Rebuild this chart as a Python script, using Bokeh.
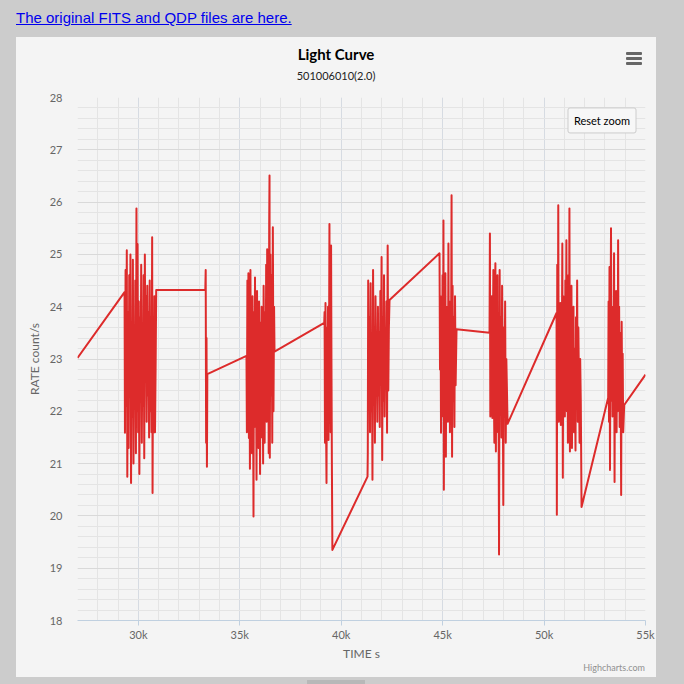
from bokeh.plotting import figure
from bokeh.models import Range1d, Label, Div, FixedTicker, GlobalInlineStyleSheet
from bokeh.layouts import column
from bokeh.embed import file_html
from bokeh.resources import INLINE

# ---------------- data (TIME s, RATE count/s) ----------------
t_start = [27000]
r_start = [23.02]

t_orbit1 = [29320, 29340, 29370, 29400, 29430, 29455, 29490, 29520, 29550, 29580,
            29610, 29640, 29670, 29700, 29730, 29760, 29790, 29820, 29850, 29880,
            29906, 29930, 29960, 29990, 30020, 30050, 30080, 30110, 30140, 30170,
            30200, 30230, 30260, 30290, 30320, 30350, 30380, 30410, 30440, 30470,
            30500, 30530, 30560, 30590, 30620, 30650, 30680, 30700, 30730, 30760,
            30790, 30820, 30850, 30880]
r_orbit1 = [24.28, 21.59, 24.70, 22.10, 25.08, 20.75, 23.90, 21.30, 24.60, 22.40,
            25.00, 20.63, 23.70, 21.90, 24.90, 21.00, 23.40, 22.20, 24.50, 21.20,
            25.88, 22.00, 25.20, 21.60, 24.10, 20.80, 23.80, 22.40, 24.80, 21.40,
            23.60, 22.10, 24.60, 21.10, 25.00, 22.60, 24.20, 21.80, 24.40, 22.30,
            23.90, 21.50, 24.50, 22.00, 23.50, 21.60, 25.33, 20.44, 23.80, 21.60,
            24.20, 21.60, 22.80, 24.32]

t_orbit1b = [33300, 33320, 33340, 33360, 33380, 33400]
r_orbit1b = [24.32, 24.70, 21.40, 23.40, 20.94, 22.71]

t_orbit2 = [35330, 35350, 35375, 35400, 35425, 35450, 35475, 35500, 35525, 35550,
            35575, 35600, 35625, 35650, 35676, 35700, 35725, 35750, 35775, 35800,
            35825, 35850, 35875, 35900, 35925, 35950, 35975, 36000, 36025, 36050,
            36075, 36100, 36125, 36150, 36175, 36200, 36225, 36250, 36275, 36300,
            36325, 36350, 36375, 36400, 36425, 36450, 36466, 36480, 36510, 36540,
            36570, 36600, 36630, 36660, 36690, 36712]
r_orbit2 = [23.06, 21.60, 24.50, 22.20, 24.64, 21.49, 23.80, 20.90, 24.70, 22.50,
            23.50, 21.20, 24.20, 22.80, 19.99, 23.90, 21.70, 24.56, 22.00, 23.20,
            20.69, 24.30, 22.40, 23.60, 21.30, 24.10, 22.60, 20.80, 23.70, 21.50,
            24.00, 22.20, 23.40, 21.00, 24.40, 22.70, 21.40, 23.90, 22.10, 24.80,
            21.80, 25.10, 22.40, 24.20, 21.20, 25.60, 26.51, 21.11, 25.00, 22.30,
            24.60, 21.40, 25.52, 22.00, 24.00, 23.14]

t_orbit3 = [39162, 39180, 39200, 39225, 39250, 39275, 39300, 39325, 39350, 39375,
            39400, 39420, 39440, 39460, 39480, 39500, 39520, 39540, 39565]
r_orbit3 = [23.69, 23.90, 21.40, 24.07, 21.90, 20.63, 23.60, 22.20, 24.00, 21.45,
            23.20, 25.58, 22.10, 24.60, 21.60, 25.17, 22.80, 21.00, 19.35]

t_orbit4 = [41297, 41310, 41330, 41360, 41390, 41420, 41450, 41480, 41510, 41540,
            41570, 41600, 41630, 41660, 41690, 41720, 41750, 41780, 41810, 41840,
            41870, 41900, 41930, 41960, 41990, 42020, 42050, 42080, 42110, 42140,
            42170, 42200, 42230, 42260, 42290, 42320, 42350, 42382]
r_orbit4 = [20.75, 21.20, 24.50, 22.30, 23.80, 21.60, 24.45, 22.00, 23.40, 20.69,
            24.70, 22.50, 23.60, 21.40, 24.20, 22.80, 23.10, 21.80, 24.00, 22.30,
            23.50, 21.70, 24.30, 22.60, 24.95, 21.07, 23.80, 22.20, 24.60, 21.90,
            23.30, 22.50, 24.10, 21.59, 25.17, 22.40, 23.60, 24.13]

t_orbit5 = [44846, 44870, 44895, 44920, 44945, 44970, 44995, 45020, 45040, 45060,
            45085, 45110, 45135, 45160, 45185, 45210, 45235, 45260, 45285, 45310,
            45335, 45360, 45385, 45410, 45440, 45465, 45490, 45520, 45550, 45580,
            45610, 45640, 45685]
r_orbit5 = [25.02, 22.80, 24.20, 21.59, 23.90, 22.50, 24.60, 21.90, 25.65, 20.50,
            23.70, 22.20, 24.64, 21.13, 24.00, 22.70, 23.30, 21.80, 25.21, 22.30,
            24.10, 21.60, 23.40, 22.80, 26.13, 21.13, 24.40, 22.20, 23.80, 21.70,
            24.20, 22.50, 23.57]

t_orbit6 = [47312, 47330, 47350, 47375, 47400, 47425, 47450, 47475, 47500, 47525,
            47550, 47575, 47600, 47625, 47650, 47675, 47700, 47725, 47750, 47780,
            47810, 47840, 47870, 47900, 47930, 47960, 47990, 48020, 48050, 48080,
            48110, 48140, 48170, 48200]
r_orbit6 = [23.50, 25.40, 21.90, 23.60, 22.03, 24.20, 21.87, 23.30, 24.70, 22.40,
            21.40, 23.90, 24.83, 21.23, 23.50, 22.60, 24.60, 21.60, 23.10, 19.26,
            24.70, 22.20, 23.80, 21.50, 24.40, 22.80, 20.21, 23.60, 22.00, 24.10,
            21.40, 23.00, 22.40, 21.76]

t_orbit7 = [50615, 50630, 50650, 50675, 50700, 50725, 50750, 50775, 50800, 50825,
            50850, 50875, 50900, 50925, 50950, 50975, 51000, 51025, 51050, 51075,
            51100, 51125, 51150, 51175, 51200, 51225, 51250, 51275, 51300, 51325,
            51350, 51375, 51400, 51425, 51450, 51475, 51500, 51525, 51550, 51575,
            51600, 51630, 51660, 51690, 51720, 51750, 51780, 51810, 51847]
r_orbit7 = [23.88, 20.02, 24.80, 22.40, 25.94, 21.80, 23.90, 22.60, 24.07, 21.74,
            23.70, 22.90, 25.21, 20.73, 24.20, 22.30, 23.60, 21.90, 24.50, 22.80,
            25.27, 22.00, 23.40, 21.40, 24.60, 22.50, 25.88, 21.23, 23.80, 22.20,
            24.40, 21.30, 23.50, 22.60, 24.00, 21.60, 23.20, 22.40, 21.25, 23.80,
            22.10, 24.50, 21.80, 23.60, 22.50, 21.40, 23.00, 22.20, 20.17]

t_orbit8 = [53160, 53180, 53200, 53225, 53250, 53275, 53300, 53325, 53350, 53375,
            53400, 53425, 53450, 53475, 53500, 53525, 53550, 53575, 53600, 53625,
            53650, 53675, 53700, 53725, 53750, 53775, 53800, 53825, 53850, 53875,
            53900, 53950]
r_orbit8 = [22.26, 24.10, 21.80, 24.76, 20.88, 23.60, 25.50, 22.20, 24.00, 21.90,
            23.40, 22.60, 25.02, 20.65, 23.80, 22.40, 24.30, 21.60, 23.20, 22.00,
            25.27, 22.50, 24.00, 21.70, 23.50, 22.80, 20.40, 23.71, 22.30, 23.10,
            21.60, 22.12]

t_end = [55000]
r_end = [22.70]

x_ticks = [30000, 35000, 40000, 45000, 50000, 55000]
x_tick_labels = ["30k", "35k", "40k", "45k", "50k", "55k"]
y_ticks = [18, 19, 20, 21, 22, 23, 24, 25, 26, 27, 28]

times = (t_start + t_orbit1 + t_orbit1b + t_orbit2 + t_orbit3 + t_orbit4 +
         t_orbit5 + t_orbit6 + t_orbit7 + t_orbit8 + t_end)
rates = (r_start + r_orbit1 + r_orbit1b + r_orbit2 + r_orbit3 + r_orbit4 +
         r_orbit5 + r_orbit6 + r_orbit7 + r_orbit8 + r_end)

# ---------------- layout (page pixels; body margin is 0) ----------------
X0, X1 = 27000, 55000
Y0, Y1 = 18, 28
FL, FR, FT, FB = 77, 645, 97, 621   # plot frame in page pixels
CL, CW = 16, 640                    # chart container left / width
HEAD_TOP, HEAD_H = 37, 50
FIG_TOP = HEAD_TOP + HEAD_H
FIG_BOTTOM = 663
CREDIT_H = 677 - FIG_BOTTOM
FIG_H = FIG_BOTTOM - FIG_TOP


def xd(px):
    return X0 + (px - FL) * (X1 - X0) / (FR - FL)


def yd(py):
    return Y0 + (FB - py) * (Y1 - Y0) / (FB - FT)


FONT = "Lato"
BG = "#f4f4f4"

p = figure(width=CW, height=FIG_H, output_backend="svg", toolbar_location=None,
           x_range=Range1d(X0, X1), y_range=Range1d(Y0, Y1),
           min_border_left=FL - CL, min_border_right=CL + CW - FR,
           min_border_top=FT - FIG_TOP, min_border_bottom=FIG_BOTTOM - FB,
           margin=0)
p.background_fill_color = BG
p.border_fill_color = BG
p.outline_line_color = None

minor_x = list(range(27000, 55001, 1000))
minor_y = [18 + i * 0.2 for i in range(51)]
p.xaxis.ticker = FixedTicker(ticks=x_ticks, minor_ticks=minor_x)
p.yaxis.ticker = FixedTicker(ticks=y_ticks, minor_ticks=minor_y)
p.xaxis.major_label_overrides = {t: s for t, s in zip(x_ticks, x_tick_labels)}

p.xgrid.grid_line_color = "#d6dbe2"
p.ygrid.grid_line_color = "#d9d9d9"
p.xgrid.minor_grid_line_color = "#e4e4e4"
p.ygrid.minor_grid_line_color = "#e4e4e4"

for ax in (p.xaxis, p.yaxis):
    ax.major_label_text_font = FONT
    ax.major_label_text_font_size = "11px"
    ax.major_label_text_color = "#666666"
    ax.axis_label_text_font = FONT
    ax.axis_label_text_font_size = "12px"
    ax.axis_label_text_font_style = "normal"
    ax.axis_label_text_color = "#666666"
    ax.minor_tick_line_color = None

p.xaxis.axis_label = "TIME s"
p.xaxis.axis_line_color = "#c0d0e0"
p.xaxis.major_tick_line_color = "#c0d0e0"
p.xaxis.major_tick_out = 5
p.xaxis.major_tick_in = 0
p.xaxis.major_label_standoff = 2
p.xaxis.axis_label_standoff = 2

p.yaxis.axis_label = "RATE count/s"
p.yaxis.axis_line_color = None
p.yaxis.major_tick_line_color = None
p.yaxis.major_tick_out = 0
p.yaxis.major_tick_in = 0
p.yaxis.major_label_standoff = 11
p.yaxis.axis_label_standoff = 5

p.line(times, rates, line_color="#dd2b2b", line_width=2, line_join="round")

p.add_layout(Label(x=xd(601.5), y=yd(120), text="Reset zoom", text_font=FONT,
                   text_font_size="11px", text_color="#000000",
                   text_align="center", text_baseline="middle",
                   background_fill_color="#f7f7f7", border_line_color="#cccccc",
                   padding=6, border_radius=2))

# ---------------- page pieces ----------------
link = Div(text='<a href="#" style="color:#0000ee;text-decoration:underline;'
                'font-family:\'Liberation Sans\';font-size:15px;line-height:18px;">'
                'The original FITS and QDP files are here.</a>',
           width=CW, height=HEAD_TOP, margin=(0, 0, 0, CL),
           styles={"padding-top": "9px", "box-sizing": "border-box"})
link.stylesheets = [GlobalInlineStyleSheet(css="html, body { background-color: #cccccc; }")]

bar = ('<div style="position:absolute;left:610px;top:{top}px;width:16px;height:3px;'
       'background:#666666;border-radius:1px;"></div>')
header_html = (
    '<div style="position:relative;width:%dpx;height:%dpx;font-family:Lato;">' % (CW, HEAD_H)
    + '<div style="position:absolute;left:0;top:8px;width:%dpx;text-align:center;'
      'font-size:15px;font-weight:bold;color:#000000;line-height:18px;">Light Curve</div>' % CW
    + '<div style="position:absolute;left:0;top:32px;width:%dpx;text-align:center;'
      'font-size:11px;color:#222222;line-height:14px;">501006010(2.0)</div>' % CW
    + bar.format(top=15) + bar.format(top=20) + bar.format(top=25)
    + '</div>')
header = Div(text=header_html, width=CW, height=HEAD_H, margin=0,
             styles={"background-color": BG})

credits = Div(text='<div style="position:relative;width:%dpx;height:%dpx;">'
                   '<div style="position:absolute;right:0;top:0px;text-align:right;'
                   'font-family:Lato;font-size:9px;line-height:9px;color:#909090;">'
                   'Highcharts.com</div></div>' % (FR - CL, CREDIT_H),
              width=CW, height=CREDIT_H, margin=0,
              styles={"background-color": BG})

chart = column(header, p, credits, spacing=0, width=CW, margin=(0, 0, 0, CL),
               styles={"background-color": BG})

tab = Div(text="", width=58, height=4, margin=(3, 0, 0, 307),
          styles={"background-color": "#b8b8b8"})

layout = column(link, chart, tab, spacing=0)

open("out.html", "w").write(file_html(layout, INLINE))
